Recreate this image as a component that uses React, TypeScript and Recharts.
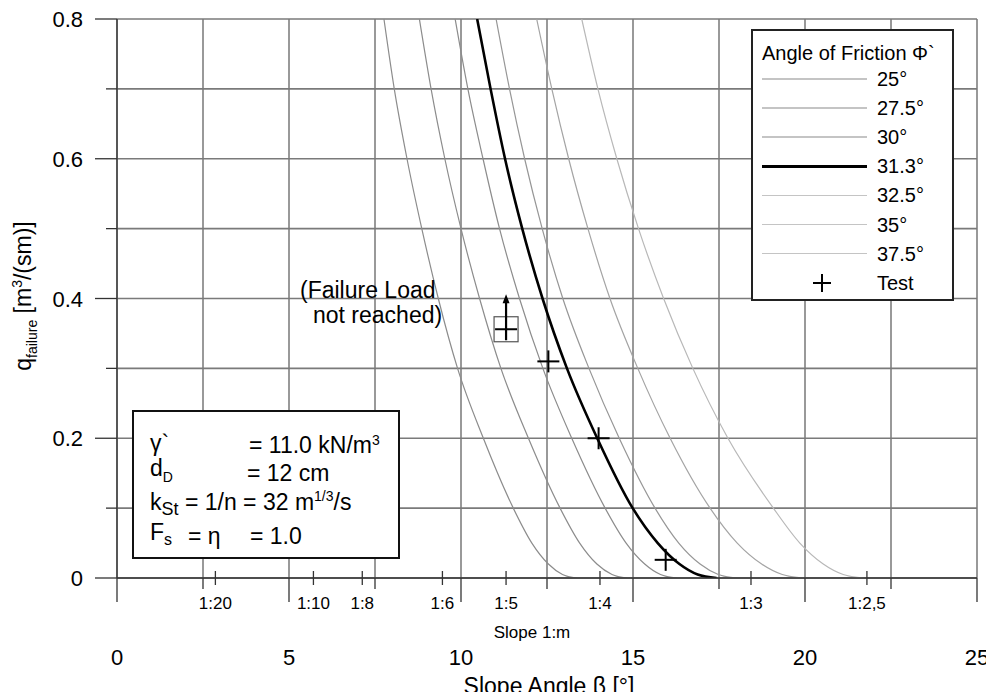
import React from 'react';
import { ComposedChart, Line, Scatter, XAxis, YAxis, CartesianGrid } from 'recharts';

const qLevels = [0.8, 0.7, 0.6, 0.5, 0.4, 0.3, 0.2, 0.1, 0.05, 0.02, 0.005, 0];

// slope angle beta (deg) of each friction-angle curve at the q levels above
const beta25 = [7.76, 8.06, 8.43, 8.86, 9.34, 9.9, 10.65, 11.52, 12.06, 12.54, 12.95, 13.36];
const beta275 = [8.79, 9.13, 9.53, 10.0, 10.54, 11.16, 11.96, 12.88, 13.45, 13.95, 14.39, 14.82];
const beta30 = [9.83, 10.2, 10.64, 11.12, 11.7, 12.38, 13.22, 14.19, 14.8, 15.34, 15.8, 16.27];
const beta313 = [10.47, 10.86, 11.28, 11.78, 12.37, 13.08, 13.96, 14.99, 15.72, 16.35, 16.88, 17.43];
const beta325 = [11.02, 11.41, 11.85, 12.36, 12.96, 13.72, 14.6, 15.64, 16.33, 16.95, 17.48, 18.01];
const beta35 = [12.2, 12.64, 13.13, 13.69, 14.33, 15.14, 16.08, 17.24, 18.03, 18.74, 19.34, 19.95];
const beta375 = [13.51, 13.98, 14.53, 15.16, 15.89, 16.74, 17.76, 19.08, 19.85, 20.53, 21.11, 21.7];

const frictionLabels = ['25°', '27.5°', '30°', '31.3°', '32.5°', '35°', '37.5°'];
const frictionCurves = [beta25, beta275, beta30, beta313, beta325, beta35, beta375];

// tests
const testBeta = [12.54, 14.0, 15.95];
const testQ = [0.31, 0.2, 0.026];
const notReachedBeta = [11.31];
const notReachedQ = [0.356];

// axes
const betaTicks = [0, 2.5, 5, 7.5, 10, 12.5, 15, 17.5, 20, 22.5, 25];
const slopeTicks = [2.86, 5.71, 7.13, 9.46, 11.31, 14.04, 18.43, 21.8];
const slopeLabels = ['1:20', '1:10', '1:8', '1:6', '1:5', '1:4', '1:3', '1:2,5'];
const qTicks = [0, 0.1, 0.2, 0.3, 0.4, 0.5, 0.6, 0.7, 0.8];
const qLabels = ['0', '', '0.2', '', '0.4', '', '0.6', '', '0.8'];

const curveStyles = [
  { stroke: '#8c8c8c', width: 1.2 },
  { stroke: '#8c8c8c', width: 1.2 },
  { stroke: '#8c8c8c', width: 1.2 },
  { stroke: '#000000', width: 2.6 },
  { stroke: '#969696', width: 1.2 },
  { stroke: '#a4a4a4', width: 1.2 },
  { stroke: '#b8b8b8', width: 1.2 },
];

const FONT = '"Liberation Sans", Arial, Helvetica, sans-serif';

// one axis carries both the degree ticks and the 1:m slope ticks
const allXTicks = [...betaTicks, ...slopeTicks].sort((a, b) => a - b);

const XTick = ({ x, y, payload }: any) => {
  const v = payload.value;
  const s = slopeTicks.indexOf(v);
  if (s >= 0) {
    return (
      <g>
        <line x1={x} x2={x} y1={y - 7} y2={y + 7} stroke="#333" strokeWidth={1.3} />
        <text x={x} y={y + 31} textAnchor="middle" fontSize={17} fontFamily={FONT} fill="#000">
          {slopeLabels[s]}
        </text>
      </g>
    );
  }
  const major = v % 5 === 0;
  return (
    <g>
      <line x1={x} x2={x} y1={y} y2={y + (major ? 24 : 11)} stroke="#333" strokeWidth={1.3} />
      {major && (
        <text x={x} y={y + 87} textAnchor="middle" fontSize={22} fontFamily={FONT} fill="#000">
          {v}
        </text>
      )}
    </g>
  );
};

const QTick = ({ x, y, index }: any) => {
  const label = qLabels[index];
  return (
    <g>
      <line x1={x - (label ? 22 : 11)} x2={x} y1={y} y2={y} stroke="#333" strokeWidth={1.3} />
      {label && (
        <text x={x - 34} y={y + 8} textAnchor="end" fontSize={22} fontFamily={FONT} fill="#000">
          {label}
        </text>
      )}
    </g>
  );
};

const PlusMark = ({ cx, cy }: any) => (
  <g>
    <line x1={cx - 11} x2={cx + 11} y1={cy} y2={cy} stroke="#000" strokeWidth={2} />
    <line x1={cx} x2={cx} y1={cy - 11} y2={cy + 11} stroke="#000" strokeWidth={2} />
  </g>
);

const NotReachedMark = ({ cx, cy }: any) => (
  <g>
    <rect x={cx - 12} y={cy - 12.5} width={24} height={25} fill="none" stroke="#555" strokeWidth={1.2} />
    <line x1={cx - 11} x2={cx + 11} y1={cy} y2={cy} stroke="#000" strokeWidth={2} />
    <line x1={cx} x2={cx} y1={cy + 11} y2={cy - 27} stroke="#000" strokeWidth={2.2} />
    <path d={`M${cx - 3.5},${cy - 26} L${cx},${cy - 35} L${cx + 3.5},${cy - 26} Z`} fill="#000" />
  </g>
);

const abs = (left: number, top: number, extra: React.CSSProperties = {}): React.CSSProperties => ({
  position: 'absolute',
  left,
  top,
  whiteSpace: 'nowrap',
  ...extra,
});

const midText = (left: number, cy: number, size: number): React.CSSProperties =>
  abs(left, cy, { transform: 'translateY(-50%)', fontSize: size, lineHeight: `${size}px` });

export default function App() {
  const curveData = frictionCurves.map((betas) => betas.map((b, j) => ({ beta: b, q: qLevels[j] })));
  const testData = testBeta.map((b, i) => ({ beta: b, q: testQ[i] }));
  const notReachedData = notReachedBeta.map((b, i) => ({ beta: b, q: notReachedQ[i] }));

  return (
    <div style={{ position: 'relative', width: 986, height: 684, fontFamily: FONT, color: '#000', background: '#fff' }}>
      <ComposedChart width={986} height={684} margin={{ top: 11, right: 17, bottom: 0, left: 0 }}>
        <CartesianGrid horizontal={false} verticalValues={betaTicks} stroke="#555" strokeWidth={1.2} />
        <CartesianGrid vertical={false} stroke="#7a7a7a" strokeWidth={1.6} />
        <XAxis
          type="number"
          dataKey="beta"
          domain={[0, 25]}
          ticks={allXTicks}
          allowDataOverflow
          height={114}
          axisLine={{ stroke: '#333', strokeWidth: 1.3 }}
          tickLine={false}
          tickSize={0}
          tickMargin={0}
          tick={<XTick />}
          interval={0}
        />
        <YAxis
          type="number"
          dataKey="q"
          domain={[0, 0.8]}
          ticks={qTicks}
          allowDataOverflow
          width={109}
          axisLine={{ stroke: '#333', strokeWidth: 1.3 }}
          tickLine={false}
          tickSize={0}
          tickMargin={0}
          tick={<QTick />}
          interval={0}
        />
        {curveData.map((data, i) => (
          <Line
            key={frictionLabels[i]}
            data={data}
            dataKey="q"
            type="monotone"
            stroke={curveStyles[i].stroke}
            strokeWidth={curveStyles[i].width}
            dot={false}
            activeDot={false}
            isAnimationActive={false}
          />
        ))}
        <Scatter data={testData} dataKey="q" shape={<PlusMark />} isAnimationActive={false} />
        <Scatter data={notReachedData} dataKey="q" shape={<NotReachedMark />} isAnimationActive={false} />
      </ComposedChart>

      {/* y-axis title */}
      <div
        style={abs(17, 288, {
          transform: 'translate(-50%, -50%) rotate(-90deg)',
          fontSize: 23,
          lineHeight: '23px',
        })}
      >
        q<sub style={{ fontSize: 14 }}>failure</sub> [m<sup style={{ fontSize: 14 }}>3</sup>/(sm)]
      </div>

      {/* x-axis titles */}
      <div style={abs(524, 625, { transform: 'translate(-50%, -50%)', fontSize: 17 })}>Slope 1:m</div>
      <div style={abs(541, 678, { transform: 'translate(-50%, -50%)', fontSize: 23, lineHeight: '23px' })}>
        Slope Angle β [°]
      </div>

      {/* annotation */}
      <div style={midText(292, 282, 23)}>(Failure Load</div>
      <div style={midText(305, 307, 23)}>not reached)</div>

      {/* legend */}
      <div style={abs(743, 21, { width: 199, height: 268, border: '2px solid #222', background: '#fff' })} />
      <div style={midText(754, 45, 20)}>Angle of Friction Φ`</div>
      {frictionLabels.map((label, i) => {
        const cy = 71 + i * 29.1;
        const thick = i === 3;
        return (
          <React.Fragment key={label}>
            <div
              style={abs(754, cy - (thick ? 1.5 : 0.75), {
                width: 105,
                height: thick ? 3 : 1.5,
                background: thick ? '#000' : '#c4c4c4',
              })}
            />
            <div style={midText(869, cy, 20)}>{label}</div>
          </React.Fragment>
        );
      })}
      <div style={abs(805, 274, { width: 18, height: 2, background: '#000' })} />
      <div style={abs(813, 266, { width: 2, height: 18, background: '#000' })} />
      <div style={midText(869, 275, 20)}>Test</div>

      {/* parameter box */}
      <div style={abs(124, 402, { width: 264, height: 145, border: '2px solid #111', background: '#fff' })} />
      <div style={midText(142, 435, 23)}>γ`</div>
      <div style={midText(241, 435, 23)}>
        = 11.0 kN/m<sup style={{ fontSize: 14 }}>3</sup>
      </div>
      <div style={midText(142, 465, 23)}>
        d<sub style={{ fontSize: 14 }}>D</sub>
      </div>
      <div style={midText(239, 465, 23)}>= 12 cm</div>
      <div style={midText(142, 495, 23)}>
        k<sub style={{ fontSize: 18 }}>St</sub> = 1/n = 32 m<sup style={{ fontSize: 14 }}>1/3</sup>/s
      </div>
      <div style={midText(142, 528, 23)}>
        F<sub style={{ fontSize: 16 }}>s</sub>
      </div>
      <div style={midText(180, 528, 23)}>= η</div>
      <div style={midText(242, 528, 23)}>= 1.0</div>
    </div>
  );
}
